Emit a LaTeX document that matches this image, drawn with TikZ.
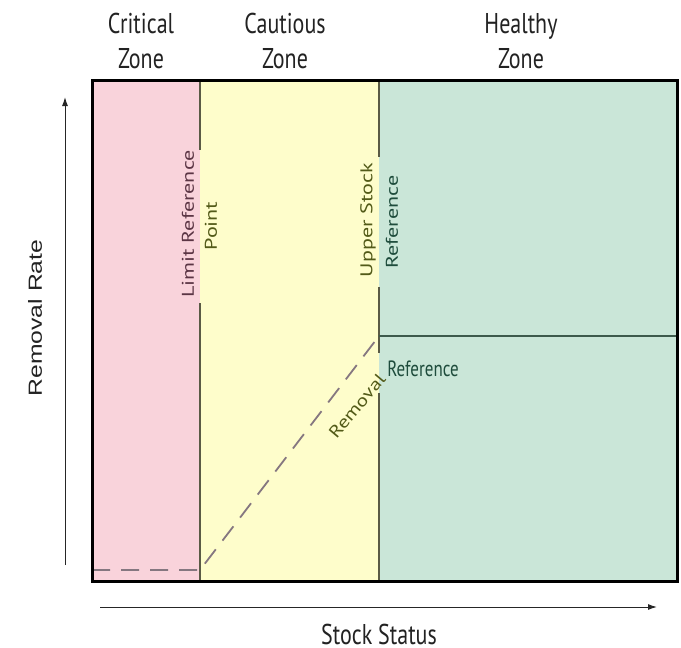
\documentclass[tikz,border=0pt]{standalone}
\usepackage{fontspec}
\setmainfont{PT Sans}
\newfontfamily\arialf{Liberation Sans}
\usetikzlibrary{arrows.meta}
\definecolor{pinkz}{HTML}{F9D3DB}
\definecolor{yellowz}{HTML}{FEFDCB}
\definecolor{greenz}{HTML}{CAE6D8}
\definecolor{divline}{HTML}{5A5A45}
\definecolor{refline}{HTML}{3D5A4C}
\definecolor{dashc}{HTML}{857780}
\definecolor{maroontxt}{HTML}{5B3544}
\definecolor{olivetxt}{HTML}{525A18}
\definecolor{greentxt}{HTML}{1E4C3C}
\definecolor{labtxt}{HTML}{222222}
\begin{document}
\begin{tikzpicture}[x=1pt,y=-1pt,
  zonelabel/.style={align=center,font=\fontsize{22}{27}\selectfont,yscale=1.3,inner sep=0pt,text=labtxt},
  reflabel/.style={font=\fontsize{17}{20}\selectfont,inner sep=0pt},
  vlabel/.style={reflabel,rotate=90,xscale=1.3},
  divider/.style={draw=divline,line width=1.2pt},
  dashline/.style={draw=dashc,line width=1.8pt,dash pattern=on 18pt off 11pt},
  axis/.style={draw=black!85,line width=1pt,-{Latex[length=9pt,width=6pt]}}]
\useasboundingbox (0,0) rectangle (681,648);
% zones
\fill[pinkz] (92,80) rectangle (200,581);
\fill[yellowz] (200,80) rectangle (379,581);
\fill[greenz] (379,80) rectangle (677,581);
% coordinates
\coordinate (lrpTop) at (200,80);
\coordinate (lrpA) at (200,150);
\coordinate (lrpB) at (200,303);
\coordinate (lrpBot) at (200,581);
\coordinate (usrTop) at (379,80);
\coordinate (usrA) at (379,157);
\coordinate (usrB) at (379,287);
\coordinate (usrC) at (379,353);
\coordinate (usrD) at (379,393);
\coordinate (usrBot) at (379,581);
\coordinate (rrR) at (677,336);
\coordinate (d0) at (92,570);
\coordinate (d1) at (200,570);
\coordinate (d2) at (379,336);
% dividers
\draw[divider] (lrpTop) -- (lrpA) (lrpB) -- (lrpBot);
\draw[divider] (usrTop) -- (usrA) (usrB) -- (usrC) (usrD) -- (usrBot);
\draw[draw=refline,line width=1.6pt] (d2) -- (rrR);
% dashed removal line
\draw[dashline] (d0) -- (d1) -- (d2);
% border
\draw[line width=3pt,black] (92,80) rectangle (677,581);
% zone labels
\node[zonelabel] (crit) at (141,41) {Critical\\Zone};
\node[zonelabel] (caut) at (285,41) {Cautious\\Zone};
\node[zonelabel] (heal) at (521,41) {Healthy\\Zone};
% reference labels
\node[vlabel,text=maroontxt] (lrp1) at (188,224) {Limit Reference};
\node[vlabel,text=olivetxt] (lrp2) at (211,226) {Point};
\node[vlabel,text=olivetxt] (usr1) at (368,220) {Upper Stock};
\node[vlabel,text=greentxt] (usr2) at (392,222) {Reference};
\node[reflabel,text=olivetxt,rotate=50,xscale=1.25] (rr1) at (357,406) {Removal};
\node[reflabel,text=greentxt,yscale=1.3] (rr2) at (423,369) {Reference};
% axes
\coordinate (ya) at (65,565);
\coordinate (yb) at (65,97);
\coordinate (xa) at (100,607);
\coordinate (xb) at (657,607);
\draw[axis] (ya) -- (yb);
\draw[axis] (xa) -- (xb);
\node[font=\arialf\fontsize{19}{22}\selectfont,rotate=90,xscale=1.3,inner sep=0pt,text=labtxt] (ylab) at (35,318) {Removal Rate};
\node[font=\fontsize{22}{26}\selectfont,yscale=1.3,inner sep=0pt,text=labtxt] (xlab) at (379,634) {Stock Status};
\end{tikzpicture}
\end{document}
